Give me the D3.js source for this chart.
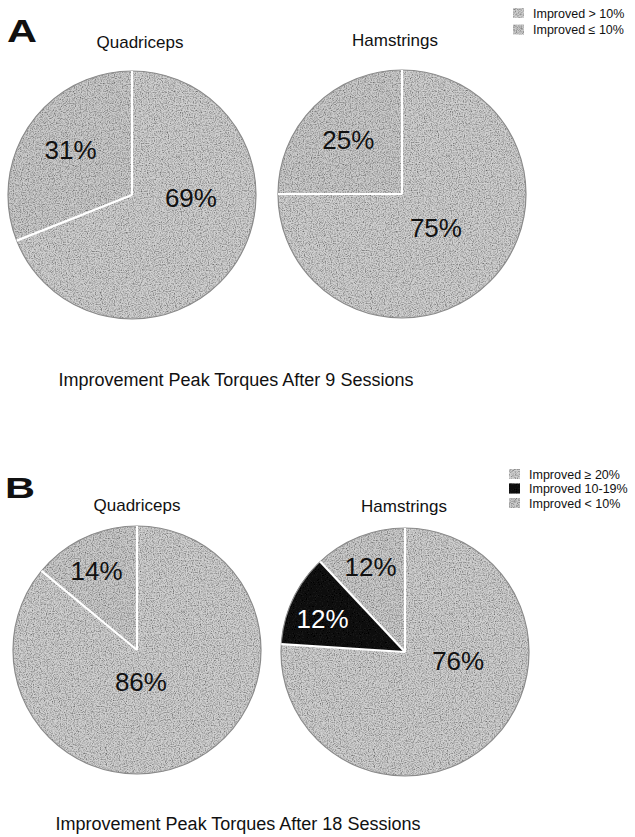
<!DOCTYPE html>
<html>
<head>
<meta charset="utf-8">
<script src="https://cdn.jsdelivr.net/npm/d3@7/dist/d3.min.js"></script>
<style>
  html, body { margin: 0; padding: 0; background: #ffffff; }
  svg { display: block; }
  text { font-family: "Liberation Sans", Arial, Helvetica, sans-serif; fill: #111; }
</style>
</head>
<body>
<svg id="chart" width="635" height="837"></svg>
<script>
// ---------------- DATA ----------------
const panelLetters = ["A", "B"];
const muscles = ["Quadriceps", "Hamstrings"];
const legendA = ["Improved > 10%", "Improved \u2264 10%"];
const legendB = ["Improved \u2265 20%", "Improved 10-19%", "Improved < 10%"];
const captions = ["Improvement Peak Torques After 9 Sessions",
                  "Improvement Peak Torques After 18 Sessions"];
// values follow legend order of each panel
const quadA = [69, 31];
const hamA  = [75, 25];
const quadB = [86, 0, 14];
const hamB  = [76, 12, 12];

// ---------------- LAYOUT / STYLE ----------------
const W = 635, H = 837, R = 124;
const svg = d3.select("#chart");

const defs = svg.append("defs");
const f = defs.append("filter").attr("id", "grain")
  .attr("x", "-5%").attr("y", "-5%").attr("width", "110%").attr("height", "110%");
f.append("feTurbulence").attr("type", "fractalNoise").attr("baseFrequency", "0.85")
  .attr("numOctaves", 2).attr("seed", 7).attr("result", "n");
f.append("feColorMatrix").attr("in", "n").attr("type", "matrix")
  .attr("values", "0 0 0 0 0  0 0 0 0 0  0 0 0 0 0  0 0 0 1.6 -0.62").attr("result", "dk");
f.append("feComposite").attr("in", "dk").attr("in2", "SourceGraphic").attr("operator", "in").attr("result", "dk2");
const fm = f.append("feMerge");
fm.append("feMergeNode").attr("in", "SourceGraphic");
fm.append("feMergeNode").attr("in", "dk2");

const grayA = ["#d0d0d0", "#cbcbcb"];
const grayB = ["#d0d0d0", "#161616", "#cbcbcb"];

const panels = [
  { letter: panelLetters[0], legend: legendA, colors: grayA, caption: captions[0],
    letterPos: [7, 42], letterSize: 32, captionPos: [236, 386], legendPos: [513, 13], legendStep: 16.5,
    pies: [
      { name: muscles[0], values: quadA, c: [132, 195], titleY: 48, titleX: 140,
        lab: [[93, 59], [306, 76]] },
      { name: muscles[1], values: hamA, c: [402, 194], titleY: 46, titleX: 395,
        lab: [[135, 48], [315, 76]] }
    ] },
  { letter: panelLetters[1], legend: legendB, colors: grayB, caption: captions[1],
    letterPos: [5, 498], letterSize: 29, captionPos: [238, 830], legendPos: [509, 474], legendStep: 14.5,
    pies: [
      { name: muscles[0], values: quadB, c: [137, 650], titleY: 511, titleX: 137,
        lab: [[173, 32], null, [333, 89]] },
      { name: muscles[1], values: hamB, c: [405, 652], titleY: 512, titleX: 404,
        lab: [[100, 54], [292, 89], [338, 92]] }
    ] }
];

const pie = d3.pie().sort(null).value(d => d);
const arc = d3.arc().innerRadius(0).outerRadius(R);

panels.forEach(p => {
  // panel letter
  svg.append("text").attr("x", p.letterPos[0]).attr("y", p.letterPos[1])
    .attr("font-size", p.letterSize).attr("font-weight", "bold")
    .attr("textLength", 30).attr("lengthAdjust", "spacingAndGlyphs")
    .text(p.letter);

  // legend
  const lg = svg.append("g");
  p.legend.forEach((t, i) => {
    const y = p.legendPos[1] + i * p.legendStep;
    lg.append("rect").attr("x", p.legendPos[0]).attr("y", y - 5)
      .attr("width", 11).attr("height", 10)
      .attr("fill", p.colors[i]).attr("filter", "url(#grain)");
    lg.append("text").attr("x", p.legendPos[0] + 20).attr("y", y + 4.5)
      .attr("font-size", 12.5).text(t);
  });

  // caption
  svg.append("text").attr("x", p.captionPos[0]).attr("y", p.captionPos[1])
    .attr("text-anchor", "middle").attr("font-size", 18).text(p.caption);

  p.pies.forEach(pc => {
    svg.append("text").attr("x", pc.titleX).attr("y", pc.titleY)
      .attr("text-anchor", "middle").attr("font-size", 17).text(pc.name);

    const g = svg.append("g").attr("transform", `translate(${pc.c[0]},${pc.c[1]})`);
    const arcs = pie(pc.values);
    g.append("g").attr("filter", "url(#grain)")
      .selectAll("path").data(arcs).join("path")
      .attr("d", arc).attr("fill", (d, i) => p.colors[i]);
    g.append("circle").attr("r", R).attr("fill", "none")
      .attr("stroke", "#8a8a8a").attr("stroke-width", 1.2);
    // white separators
    g.selectAll("line.sep").data(arcs.filter(d => d.value > 0)).join("line")
      .attr("class", "sep")
      .attr("x1", 0).attr("y1", 0)
      .attr("x2", d => d3.pointRadial(d.startAngle, R)[0])
      .attr("y2", d => d3.pointRadial(d.startAngle, R)[1])
      .attr("stroke", "#ffffff").attr("stroke-width", 2.2);
    // labels
    arcs.forEach((d, i) => {
      if (d.value <= 0 || !pc.lab[i]) return;
      const [ang, rr] = pc.lab[i];
      const pt = d3.pointRadial(ang * Math.PI / 180, rr);
      g.append("text").attr("x", pt[0]).attr("y", pt[1])
        .attr("text-anchor", "middle").attr("dominant-baseline", "central")
        .attr("font-size", 26)
        .style("fill", p.colors[i] === "#161616" ? "#ffffff" : "#111111")
        .text(d.value + "%");
    });
  });
});
</script>
</body>
</html>
